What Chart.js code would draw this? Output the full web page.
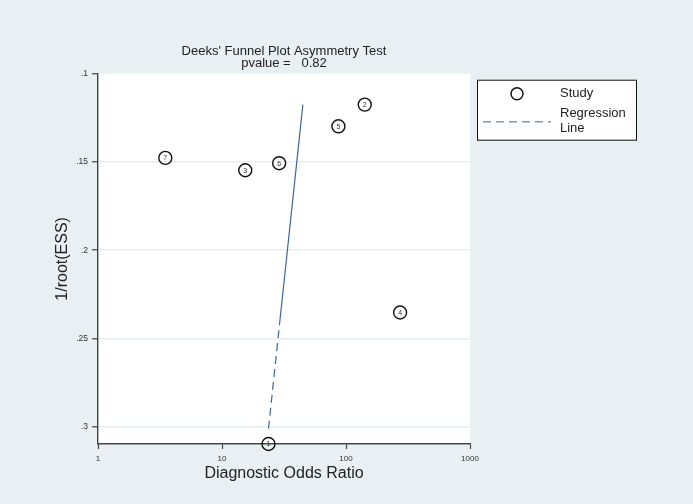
<!DOCTYPE html>
<html><head><meta charset="utf-8">
<script src="https://cdn.jsdelivr.net/npm/chart.js@4/dist/chart.umd.min.js"></script>
<style>html,body{margin:0;padding:0;background:#e8f0f3;overflow:hidden}</style>
</head><body>
<canvas id="c" width="693" height="504"></canvas>
<script>
// ---- data ----
const studyIds = ['1','2','3','4','5','6','7'];
const studyDOR = [23.7, 141.7, 15.4, 273, 86.9, 28.9, 3.49];
const studyInvRootESS = [0.3098, 0.1175, 0.1547, 0.2353, 0.1298, 0.1507, 0.1477];
const regSolidDOR = [44.9, 29.5];
const regSolidY = [0.1175, 0.238];
const regDashDOR = [29.5, 23.7];
const regDashY = [0.238, 0.3013];
const xTickValues = [1, 10, 100, 1000];
const xTickLabels = ['1', '10', '100', '1000'];
const yTickValues = [0.1, 0.15, 0.2, 0.25, 0.3];
const yTickLabels = ['.1', '.15', '.2', '.25', '.3'];
const titleLines = ["Deeks' Funnel Plot Asymmetry Test", "pvalue =   0.82"];

const FONT = "'Liberation Sans', Arial, sans-serif";
const BG = '#e8f0f3';
const LINE = '#3a6896';

const bgPlugin = {
  id: 'bg',
  beforeDraw(chart) {
    const {ctx, chartArea: a} = chart;
    ctx.save();
    ctx.fillStyle = BG;
    ctx.fillRect(0, 0, chart.width, chart.height);
    ctx.fillStyle = '#ffffff';
    ctx.fillRect(a.left, a.top, a.right - a.left, a.bottom - a.top);
    ctx.restore();
  }
};

const labelPlugin = {
  id: 'ptlabels',
  afterDatasetsDraw(chart) {
    const meta = chart.getDatasetMeta(2);
    const ctx = chart.ctx;
    ctx.save();
    ctx.font = "7px " + FONT;
    ctx.fillStyle = '#333';
    ctx.textAlign = 'center';
    ctx.textBaseline = 'middle';
    meta.data.forEach((el, i) => {
      ctx.fillText(studyIds[i], el.x, el.y + 0.5);
    });
    ctx.restore();
  }
};

const legendPlugin = {
  id: 'customLegend',
  afterDraw(chart) {
    const ctx = chart.ctx;
    const a = chart.chartArea;
    const x0 = a.right + 7, y0 = a.top + 6, w = 159, h = 60;
    ctx.save();
    ctx.fillStyle = '#fff';
    ctx.fillRect(x0, y0, w, h);
    ctx.strokeStyle = '#111';
    ctx.lineWidth = 1;
    ctx.strokeRect(x0 + 0.5, y0 + 0.5, w, h);
    // marker
    ctx.beginPath();
    ctx.arc(x0 + 40, y0 + 14, 6, 0, Math.PI * 2);
    ctx.lineWidth = 1.5;
    ctx.strokeStyle = '#111';
    ctx.stroke();
    // dashed line
    ctx.beginPath();
    ctx.setLineDash([8, 5]);
    ctx.strokeStyle = '#7d9aba';
    ctx.lineWidth = 1.4;
    ctx.moveTo(x0 + 6, y0 + 42);
    ctx.lineTo(x0 + 74, y0 + 42);
    ctx.stroke();
    ctx.setLineDash([]);
    ctx.fillStyle = '#222';
    ctx.font = "13px " + FONT;
    ctx.textAlign = 'left';
    ctx.textBaseline = 'middle';
    ctx.fillText('Study', x0 + 83, y0 + 14);
    ctx.fillText('Regression', x0 + 83, y0 + 34);
    ctx.fillText('Line', x0 + 83, y0 + 49);
    ctx.restore();
  }
};

new Chart(document.getElementById('c'), {
  type: 'scatter',
  data: {
    datasets: [
      {
        type: 'line',
        data: regSolidDOR.map((x, i) => ({x, y: regSolidY[i]})),
        borderColor: LINE, borderWidth: 1.2, pointRadius: 0, fill: false, tension: 0
      },
      {
        type: 'line',
        data: regDashDOR.map((x, i) => ({x, y: regDashY[i]})),
        borderColor: LINE, borderWidth: 1.2, borderDash: [8, 5], pointRadius: 0, fill: false, tension: 0
      },
      {
        data: studyDOR.map((x, i) => ({x, y: studyInvRootESS[i]})),
        pointRadius: 6.5, pointHoverRadius: 6.5,
        pointBackgroundColor: 'rgba(255,255,255,0)',
        pointBorderColor: '#111', pointBorderWidth: 1.4
      }
    ]
  },
  options: {
    responsive: false,
    animation: false,
    devicePixelRatio: 1,
    clip: false,
    layout: { padding: { left: 49, right: 223, top: 45, bottom: 17 } },
    plugins: {
      legend: { display: false },
      tooltip: { enabled: false },
      title: {
        display: true, fullSize: false,
        text: titleLines,
        color: '#222',
        font: { family: FONT, size: 13, weight: 'normal', lineHeight: 0.95 },
        padding: { top: 0, bottom: 4 }
      }
    },
    scales: {
      x: {
        type: 'logarithmic', min: 1, max: 1000,
        afterBuildTicks(s) { s.ticks = xTickValues.map(v => ({value: v})); },
        afterFit(s) { s.height = 43; },
        ticks: {
          autoSkip: false, maxRotation: 0, padding: 5,
          color: '#333', font: { family: FONT, size: 8 },
          callback: (v) => { const i = xTickValues.indexOf(v); return i >= 0 ? xTickLabels[i] : ''; }
        },
        grid: { drawOnChartArea: false, drawTicks: true, tickLength: 5, tickColor: '#444', tickWidth: 1.2 },
        border: { display: true, color: '#444', width: 1.4 },
        title: { display: true, text: 'Diagnostic Odds Ratio', color: '#222',
          font: { family: FONT, size: 16 }, padding: { top: 2, bottom: 4 } }
      },
      y: {
        type: 'linear', reverse: true, min: 0.1, max: 0.3098,
        afterBuildTicks(s) { s.ticks = yTickValues.map(v => ({value: v})); },
        afterFit(s) { s.width = 49; },
        ticks: {
          autoSkip: false, padding: 4,
          color: '#333', font: { family: FONT, size: 8.5 },
          callback: (v) => { const i = yTickValues.findIndex(t => Math.abs(t - v) < 1e-9); return i >= 0 ? yTickLabels[i] : ''; }
        },
        grid: {
          drawOnChartArea: true, drawTicks: true, tickLength: 6,
          color: (c) => (c.tick && Math.abs(c.tick.value - 0.1) < 1e-9) ? 'rgba(0,0,0,0)' : '#e6eef1',
          lineWidth: 1.5,
          tickColor: '#444', tickWidth: 1.2
        },
        border: { display: true, color: '#444', width: 1.4 },
        title: { display: true, text: '1/root(ESS)', color: '#222',
          font: { family: FONT, size: 16 }, padding: { top: 4, bottom: 2 } }
      }
    }
  },
  plugins: [bgPlugin, labelPlugin, legendPlugin]
});
</script>
</body></html>
